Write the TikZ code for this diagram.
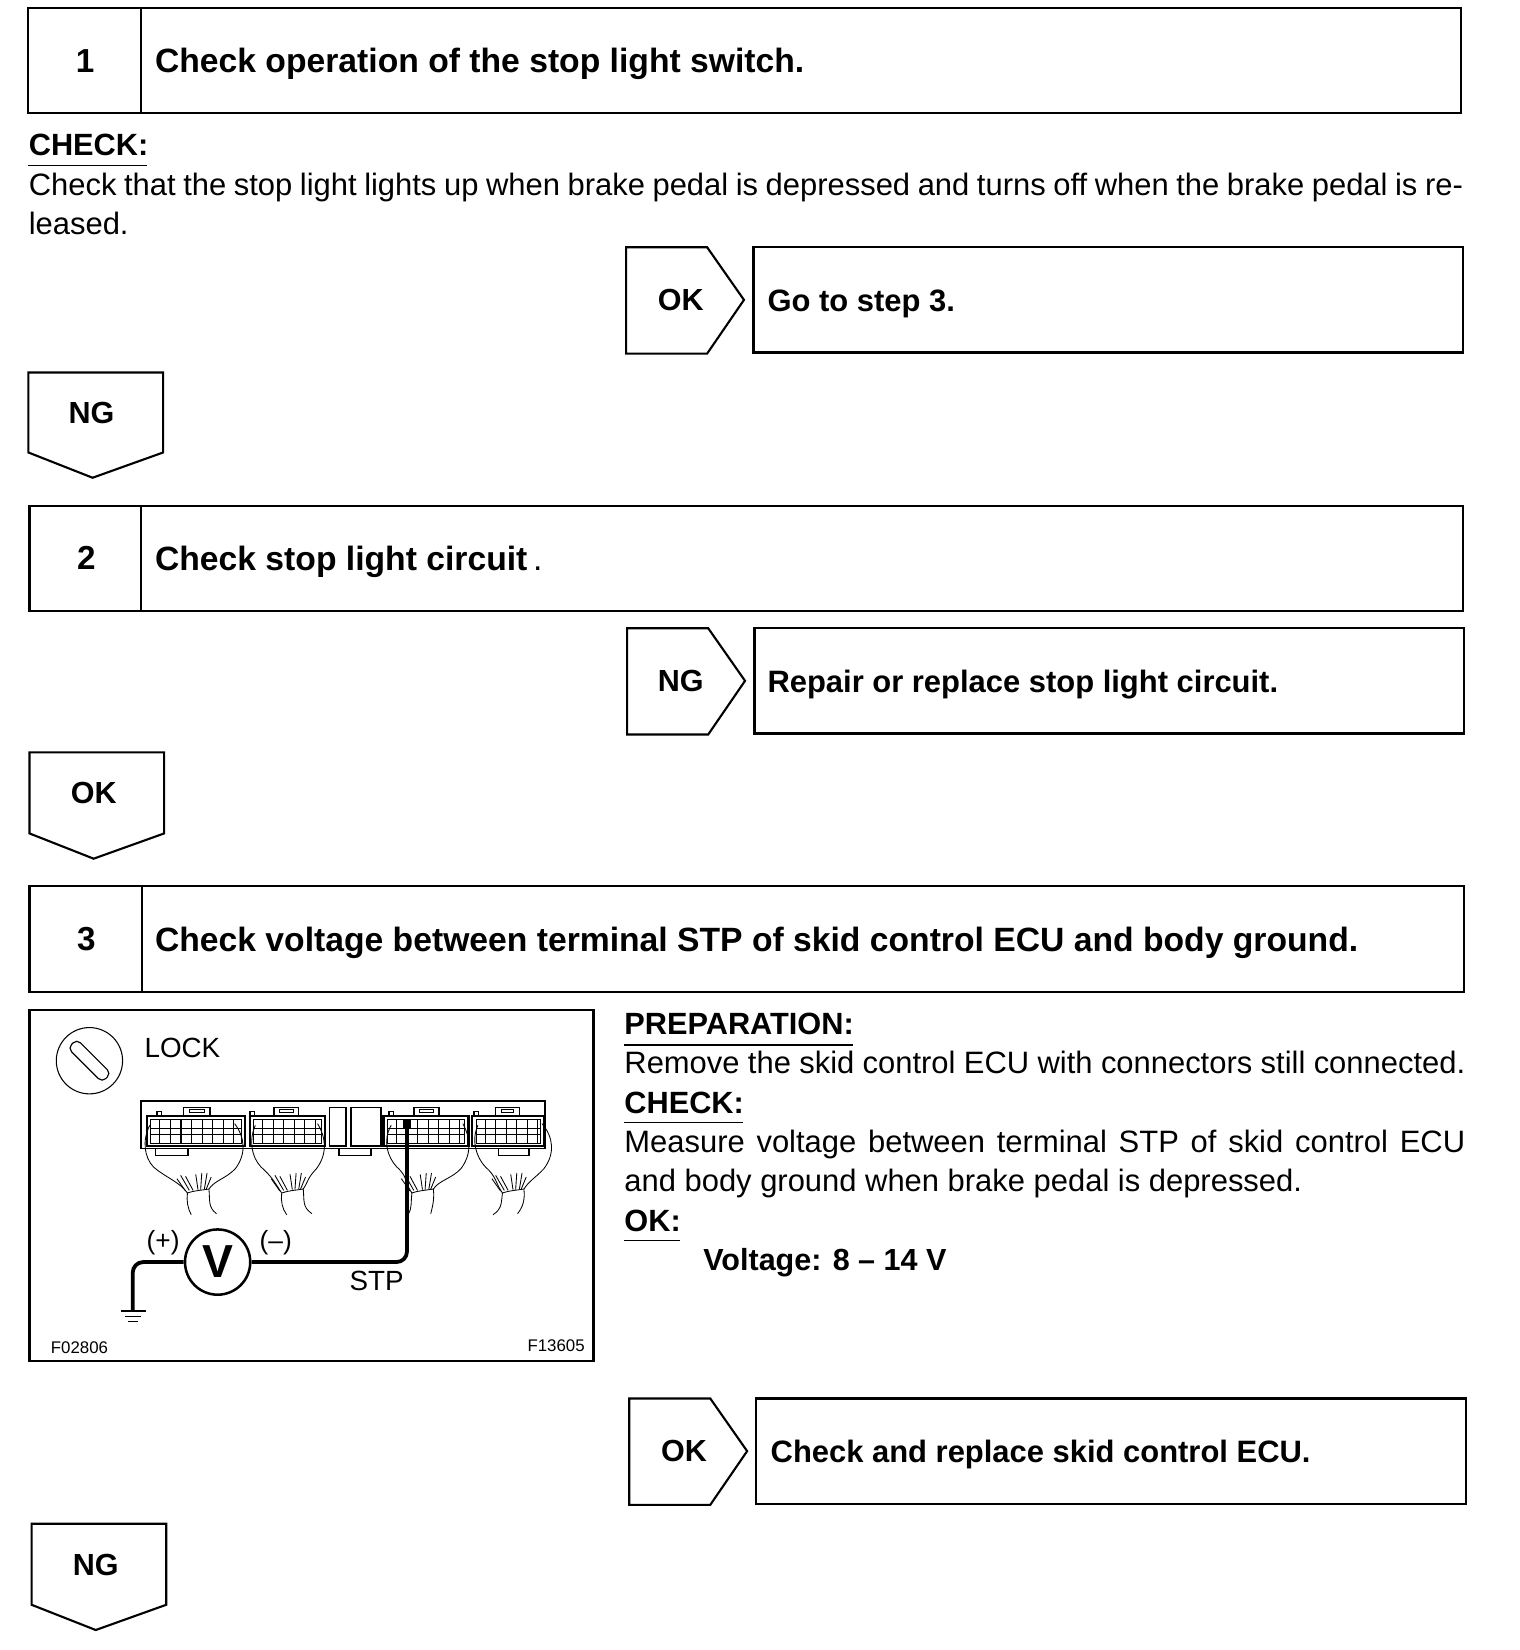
\documentclass[tikz,border=0pt]{standalone}
\usepackage{fontspec}
\setmainfont{Liberation Sans}
\begin{document}
\begin{tikzpicture}[x=0.5pt,y=-0.5pt,
  frame/.style={draw=black,line width=1pt},
  head/.style={font=\fontsize{16}{18}\selectfont\bfseries,anchor=base west,inner sep=0pt},
  res/.style={font=\fontsize{14.7}{18}\selectfont\bfseries,anchor=base west,inner sep=0pt},
  num/.style={font=\fontsize{15.8}{18}\selectfont\bfseries,inner sep=0pt},
  lab/.style={font=\fontsize{14.5}{18}\selectfont\bfseries,inner sep=0pt},
  body/.style={font=\fontsize{14.7}{18}\selectfont,anchor=base west,inner sep=0pt},
  sub/.style={font=\fontsize{14.6}{18}\selectfont\bfseries,anchor=base west,inner sep=0pt},
  rule/.style={draw=black,line width=0.6pt},
  thinl/.style={draw=black,line width=0.4pt},
  midl/.style={draw=black,line width=0.7pt},
  thick1/.style={draw=black,line width=1.1pt},
  wire/.style={draw=black,line width=1.8pt,rounded corners=5pt},
  fig/.style={font=\fontsize{13.2}{15}\selectfont,inner sep=0pt},
  figs/.style={font=\fontsize{8}{9}\selectfont,inner sep=0pt}
]
\useasboundingbox (0,0) rectangle (1444,1568);
\fill[white] (0,0) rectangle (1444,1568);

% ---- step boxes
\draw[frame] (27,8) rectangle (1388,107) (134,8) -- (134,107);
\node[num] (n1) at (81,58) {1};
\node[head] (t1) at (147,69) {Check operation of the stop light switch.};
\node[sub] (c1) at (27,148) {CHECK:};
\draw[rule] (27,157) -- (140,157);
\node[body] (b1a) at (27,186) {\makebox[681.5pt][s]{Check that the stop light lights up when brake pedal is depressed and turns off when the brake pedal is re-}};
\node[body] (b1b) at (27,223) {leased.};

\draw[frame] (595,235) -- (672,235) -- (707,285) -- (672,336) -- (595,336) -- cycle;
\node[lab] (ok1) at (647,285) {OK};
\draw[frame] (716,235) rectangle (1390,335);
\node[res] (r1) at (729,296) {Go to step 3.};

\draw[frame] (27,354) -- (155,354) -- (155,430) -- (88,454) -- (27,430) -- cycle;
\node[lab] (ng1) at (87,392) {NG};

\draw[frame] (28,481) rectangle (1390,581) (134,481) -- (134,581);
\node[num] (n2) at (82,530) {2};
\node[head] (t2) at (147,542) {Check stop light circuit\,{\mdseries .}};

\draw[frame] (596,597) -- (673,597) -- (708,647) -- (673,698) -- (596,698) -- cycle;
\node[lab] (ng2) at (647,647) {NG};
\draw[frame] (717,597) rectangle (1391,697);
\node[res] (r2) at (729,658) {Repair or replace stop light circuit.};

\draw[frame] (28,715) -- (156,715) -- (156,792) -- (89,816) -- (28,792) -- cycle;
\node[lab] (ok2) at (89,754) {OK};

\draw[frame] (28,842) rectangle (1391,943) (135,842) -- (135,943);
\node[num] (n3) at (82,892) {3};
\node[head] (t3) at (147,904) {Check voltage between terminal STP of skid control ECU and body ground.};

% ---- right column text
\node[sub] (p3) at (593,983) {PREPARATION:};
\draw[rule] (593,993) -- (811,993);
\node[body] (p3a) at (593,1020) {\makebox[399.5pt][s]{Remove the skid control ECU with connectors still connected.}};
\node[sub] (c3) at (593,1058) {CHECK:};
\draw[rule] (593,1067) -- (706,1067);
\node[body] (c3a) at (593,1095) {\makebox[399.5pt][s]{Measure voltage between terminal STP of skid control ECU}};
\node[body] (c3b) at (593,1132) {and body ground when brake pedal is depressed.};
\node[sub] (o3) at (593,1170) {OK:};
\draw[rule] (593,1179) -- (646,1179);
\node[sub,font=\fontsize{14.5}{18}\selectfont\bfseries] (v3) at (668,1207) {Voltage: 8 -- 14 V};

\draw[frame] (598,1329) -- (675,1329) -- (710,1379) -- (675,1430) -- (598,1430) -- cycle;
\node[lab] (ok3) at (650,1379) {OK};
\draw[frame] (718,1329) rectangle (1393,1429);
\node[res] (r3) at (732,1390) {Check and replace skid control ECU.};

\draw[frame] (30,1448) -- (158,1448) -- (158,1525) -- (91,1549) -- (30,1525) -- cycle;
\node[lab] (ng3) at (91,1487) {NG};

% ---- illustration
\draw[frame] (28,960) rectangle (564,1293);
\node[circle,draw=black,line width=0.5pt,minimum size=31.5pt,inner sep=0pt] (lock) at (85,1008) {};
\node[rectangle,rounded corners=2.5pt,draw=black,line width=0.55pt,minimum width=23pt,minimum height=6pt,inner sep=0pt,rotate=-45] (slot) at (lock.center) {};
\node[fig,anchor=west] (lk) at (137,996) {LOCK};
\node[fig] (stp) at (358,1217) {STP};
\node[fig,font=\fontsize{12.5}{14}\selectfont] (pl) at (155,1181) {(+)};
\node[fig,font=\fontsize{12.5}{14}\selectfont] (mi) at (262,1181) {(--)};
\node[figs,anchor=west] (f1) at (48,1281) {F02806};
\node[figs,anchor=east] (f2) at (556,1279) {F13605};

\begin{scope}[shift={(18.6,950.5)},x=0.17925pt,y=-0.1585pt]
  % housing
  \draw[thick1,line width=0.8pt] (322,445) -- (322,302) -- (1393,302) -- (1393,445);
  \draw[midl] (322,445) -- (1393,445);
  % connector bodies: x0 x1 tab0 tab1 ear0 ear1
  \foreach \xa/\xb/\ta/\tb/\ea/\eb in {338/597/435/505/370/565,610/810/675/740/617/805,965/1190/1045/1112/985/1180,1200/1390/1262/1325/1210/1375}{
    \fill[white] (\xa,347) rectangle (\xb,438);
    \draw[thick1] (\xa,347) rectangle (\xb,438);
    \draw[midl] (\ta,347) -- (\ta,322) -- (\tb,322) -- (\tb,347);
    \draw[thinl] (\ta+15,326) rectangle (\tb-15,337);
    \draw[midl] (\ea-6,347) -- (\ea-6,334) -- (\ea+6,334) -- (\ea+6,347);
    \draw[thinl] (\xa+10,358) rectangle (\xb-10,430);
    \draw[thinl] (\xa+10,385) -- (\xb-10,385) (\xa+10,403) -- (\xb-10,403);
    \pgfmathsetmacro{\xs}{\xa+34}
    \pgfmathsetmacro{\xn}{\xa+62}
    \foreach \g in {\xs,\xn,...,\xb}{
      \ifdim \g pt<\xb pt
        \draw[midl,line width=0.55pt] (\g,358) -- (\g,430);
      \fi
    }
  }
  % middle blocks
  \draw[midl] (822,322) rectangle (865,437);
  \draw[midl] (878,322) rectangle (958,437);
  % bottom tabs
  \foreach \ta/\tb in {360/447,847/932,1270/1350}{
    \draw[midl] (\ta,445) -- (\ta,465) -- (\tb,465) -- (\tb,445);
  }
  % harness curves: left outline, right outline, necks, fan
  \foreach \d/\sa/\sb/\sc/\sd/\se/\sf/\ng/\nh in {
     0/345/325/330/445/570/597/455/522,
     250/625/607/615/695/790/812/708/775,
     610/985/962/975/1040/1175/1195/1030/1090,
     840/1215/1197/1210/1280/1385/1415/1255/1320}{
    \pgfmathsetmacro{\nl}{\sd}
    \pgfmathsetmacro{\nr}{\sd+57}
    \draw[thinl] (\sa,375) .. controls (\sb,420) and (\sc,470) .. (\sc+25,500)
       .. controls (\sc+55,530) and (\nl-20,545) .. (\nl,578);
    \draw[thinl] (\se,370) .. controls (\sf,410) and (\sf+5,460) .. (\sf-25,505)
       .. controls (\sf-50,535) and (\nr+15,540) .. (\nr,566);
    \draw[thinl] (\nl,578) .. controls (\nl+20,570) and (\nr-20,570) .. (\nr,566);
    \draw[thinl] (\nl,578) .. controls (\nl-3,600) and (\nl+1,625) .. (\ng,643);
    \draw[thinl] (\nr,566) .. controls (\nr+3,600) and (\nr-3,620) .. (\nh,640);
    \foreach \fa/\fb/\ga/\gb in {-5/572/-28/535,5/570/-18/525,15/570/-5/528,28/568/22/522,35/568/38/518,45/566/52/518,50/566/63/530}{
      \draw[thinl] (\nl+\fa,\fb) -- (\nl+\ga,\gb);
    }
  }
  % voltmeter and wires
  \node[circle,draw=black,line width=1.2pt,minimum size=31pt,inner sep=0pt,font=\fontsize{22}{25}\selectfont\bfseries] (vm) at (525,785) {V};
  \coordinate (pin) at (1027,360);
  \coordinate (gnd) at (300,932);
  \fill[black] (1017,358) rectangle (1037,385);
  \draw[wire] (vm.east) -- (1027,785) -- (pin);
  \draw[wire] (vm.west) -- (300,785) -- (gnd);
  \draw[midl] (268,932) -- (335,932) (280,948) -- (322,948) (288,963) -- (315,963);
\end{scope}
\end{tikzpicture}
\end{document}
